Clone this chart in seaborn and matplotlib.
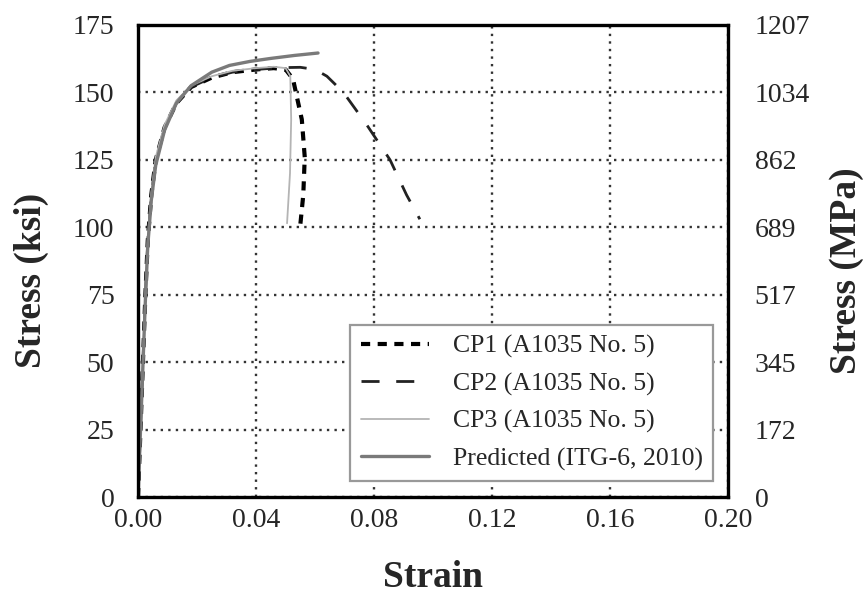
import numpy as np
import pandas as pd
import matplotlib
matplotlib.use("Agg")
import matplotlib.pyplot as plt
import seaborn as sns

# strain / stress (ksi)
cp1_strain = [0, 0.0015, 0.0025, 0.0033, 0.0045, 0.006, 0.009, 0.013, 0.018, 0.025,
              0.032, 0.040, 0.046, 0.050, 0.0525, 0.0555, 0.0565, 0.0560, 0.0550]
cp1_stress = [0, 45, 75, 95, 112, 125, 137, 146, 152, 155.5,
              157.5, 158.5, 159, 158.5, 155, 140, 126, 112, 101]

cp2_strain = [0, 0.0015, 0.0025, 0.0033, 0.0045, 0.006, 0.009, 0.013, 0.018, 0.025,
              0.032, 0.040, 0.046, 0.050, 0.055, 0.060, 0.064, 0.0696, 0.0775,
              0.0854, 0.091, 0.0955]
cp2_stress = [0, 45, 75, 95, 112, 125, 137, 146, 152, 155.5,
              157.5, 158.5, 159, 159.2, 159.3, 158.5, 156, 150, 138,
              125, 112, 103]

cp3_strain = [0, 0.0015, 0.0025, 0.0033, 0.0045, 0.006, 0.009, 0.013, 0.018, 0.025,
              0.032, 0.040, 0.046, 0.050, 0.0516, 0.0519, 0.0515, 0.0505]
cp3_stress = [0, 46, 76, 96, 113, 126, 138, 147, 152.5, 156,
              158, 159, 159.5, 159, 156, 140, 120, 101.5]

pred_strain = [0, 0.0015, 0.0025, 0.0033, 0.0045, 0.006, 0.009, 0.013, 0.018, 0.025,
               0.031, 0.038, 0.045, 0.053, 0.061]
pred_stress = [0, 44, 73, 93, 110, 123, 136, 146, 152.5, 157.5,
               160, 161.5, 162.6, 163.7, 164.6]

ksi_ticks = [0, 25, 50, 75, 100, 125, 150, 175]
mpa_labels = ["0", "172", "345", "517", "689", "862", "1034", "1207"]
strain_ticks = [0.00, 0.04, 0.08, 0.12, 0.16, 0.20]

labels = ["CP1 (A1035 No. 5)", "CP2 (A1035 No. 5)", "CP3 (A1035 No. 5)",
          "Predicted (ITG-6, 2010)"]

sns.set_style("white")
plt.rcParams['font.family'] = ['Liberation Serif', 'DejaVu Serif']

fig = plt.figure(figsize=(8.68, 5.94), dpi=100)
ax = fig.add_axes([0.159, 0.163, 0.68, 0.795])

styles = [
    dict(color="black", lw=3.0, ls=(0, (2.2, 1.8))),
    dict(color="#222222", lw=2.0, ls=(0, (6.5, 6))),
    dict(color="#b4b4b4", lw=1.3, ls="-"),
    dict(color="#7a7a7a", lw=2.4, ls="-"),
]
curves = [(cp1_strain, cp1_stress), (cp2_strain, cp2_stress),
          (cp3_strain, cp3_stress), (pred_strain, pred_stress)]

for (x, y), lab, st in zip(curves, labels, styles):
    df = pd.DataFrame({"strain": x, "stress": y})
    sns.lineplot(data=df, x="strain", y="stress", sort=False, ax=ax, label=lab,
                 color=st["color"], linewidth=st["lw"], linestyle=st["ls"])

ax.set_xlim(0, 0.20)
ax.set_ylim(0, 175)
ax.set_xticks(strain_ticks)
ax.set_xticklabels([f"{t:.2f}" for t in strain_ticks])
ax.set_yticks(ksi_ticks)
ax.grid(True, color="#333333", linestyle=(0, (1, 2.2)), linewidth=1.7)
ax.tick_params(axis="both", labelsize=20, length=0)
ax.tick_params(axis="y", pad=17)
ax.tick_params(axis="x", pad=8)
for s in ax.spines.values():
    s.set_visible(True)
    s.set_color("black")
    s.set_linewidth(2.4)

ax.set_xlabel("Strain", fontsize=27, fontweight="bold")
ax.xaxis.set_label_coords(0.5, -0.133)
ax.set_ylabel("Stress (ksi)", fontsize=27, fontweight="bold")
ax.yaxis.set_label_coords(-0.15, 0.46)

ax2 = ax.twinx()
ax2.set_ylim(0, 175)
ax2.set_yticks(ksi_ticks)
ax2.set_yticklabels(mpa_labels)
ax2.tick_params(axis="y", labelsize=20, length=0, pad=19)
ax2.set_ylabel("Stress (MPa)", fontsize=27, fontweight="bold")
ax2.yaxis.set_label_coords(1.17, 0.48)
for s in ax2.spines.values():
    s.set_visible(False)

leg = ax.legend(loc="lower right", bbox_to_anchor=(0.975, 0.034), fontsize=18.5,
                frameon=True, fancybox=False, handlelength=2.65, borderpad=0.4,
                labelspacing=0.55, handletextpad=0.95, borderaxespad=0)
leg.get_frame().set_edgecolor("#999999")
leg.get_frame().set_linewidth(1.6)
leg.get_frame().set_alpha(1)

fig.savefig("out.png", dpi=100)
